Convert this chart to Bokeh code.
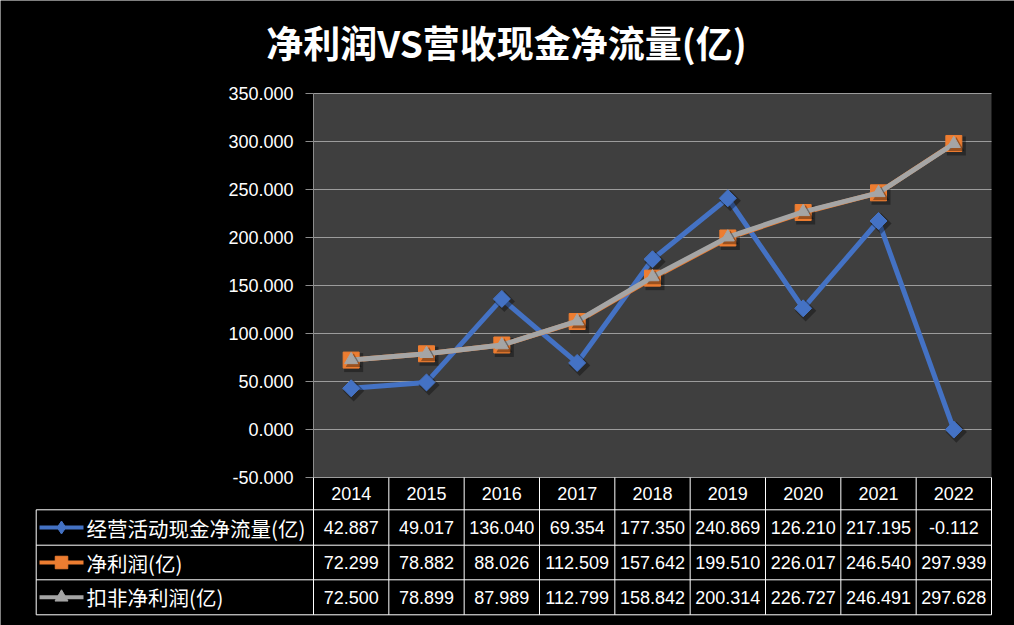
import math
from bokeh.plotting import figure
from bokeh.models import Range1d
from bokeh.core.properties import value
from bokeh.embed import file_html
from bokeh.resources import INLINE

# ---------------- data ----------------
years = ["2014", "2015", "2016", "2017", "2018", "2019", "2020", "2021", "2022"]
cash_flow = [42.887, 49.017, 136.040, 69.354, 177.350, 240.869, 126.210, 217.195, -0.112]
net_profit = [72.299, 78.882, 88.026, 112.509, 157.642, 199.510, 226.017, 246.540, 297.939]
adj_profit = [72.500, 78.899, 87.989, 112.799, 158.842, 200.314, 226.727, 246.491, 297.628]
series_names = ["经营活动现金净流量(亿)", "净利润(亿)", "扣非净利润(亿)"]
y_ticks = [-50, 0, 50, 100, 150, 200, 250, 300, 350]
title_text = "净利润VS营收现金净流量(亿)"

# ---------------- layout constants (pixels) ----------------
W, H = 1014, 625
PL, PR = 313, 991       # plot area left/right
PT, PB = 93, 477        # plot area top/bottom
n = len(years)
ymin, ymax = y_ticks[0], y_ticks[-1]
xunit = (PR - PL) / n
yscale = (ymax - ymin) / (PB - PT)


def px2x(px):
    return -0.5 + (px - PL) / xunit


def py2y(py):
    return ymax - (py - PT) * yscale


xs = list(range(n))
BLUE, ORANGE, GRAY = "#4472C4", "#ED7D31", "#A5A5A5"
NUM_FONT = value("Liberation Sans")
CJK_FONT = value("Noto Sans CJK SC")

p = figure(width=W, height=H, x_range=Range1d(px2x(0), px2x(W)),
           y_range=Range1d(py2y(H), py2y(0)),
           output_backend="svg", toolbar_location=None,
           x_axis_type=None, y_axis_type=None, min_border=0,
           background_fill_color="black", border_fill_color="black",
           outline_line_color=None)

# title
p.text(x=[px2x((270 + 742) / 2)], y=[py2y(41)], text=[title_text],
       text_color="white", text_font=CJK_FONT, text_font_size="37px",
       text_font_style="bold", text_align="center", text_baseline="middle")

# plot area
p.quad(left=[-0.5], right=[n - 0.5], bottom=[ymin], top=[ymax],
       fill_color="#3f3f3f", line_color=None)
p.segment(x0=[-0.5] * len(y_ticks), y0=y_ticks, x1=[n - 0.5] * len(y_ticks), y1=y_ticks,
          line_color="#9c9c9c", line_width=1)

# value axis: line, ticks, labels
p.segment(x0=[-0.5], y0=[ymin], x1=[-0.5], y1=[ymax], line_color="#8c8c8c", line_width=1)
p.segment(x0=[px2x(PL - 8)] * len(y_ticks), y0=y_ticks, x1=[-0.5] * len(y_ticks), y1=y_ticks,
          line_color="#8c8c8c", line_width=1)
p.text(x=[px2x(293)] * len(y_ticks), y=y_ticks, text=["%.3f" % t for t in y_ticks],
       text_color="white", text_font=NUM_FONT, text_font_size="18px",
       text_align="right", text_baseline="middle")

# series
series = [
    (cash_flow, BLUE, "square", 12, 45, "diamond", 13),
    (net_profit, ORANGE, "square", 16, 0, "square", 12.5),
    (adj_profit, GRAY, "triangle", 13, 0, "triangle", 13),
]
sdx, sdy = 2.5 / xunit, -2.5 * yscale
for vals, color, marker, size, ang, lmarker, lsize in series:
    p.line(xs, vals, line_color=color, line_width=5, line_join="round")
    p.scatter([x + sdx for x in xs], [v + sdy for v in vals], marker=marker,
              size=size + 3, angle=math.radians(ang),
              fill_color="black", line_color=None, fill_alpha=0.35)
    p.scatter(xs, vals, marker=marker, size=size, angle=math.radians(ang),
              fill_color=color, line_color=color)

# ---------------- data table ----------------
row_py = [509.3, 544.7, 579.3, 614.3]
leg_left = px2x(35.7)
row_y = [py2y(v) for v in row_py]
p.segment(x0=[leg_left] * 4, y0=row_y, x1=[n - 0.5] * 4, y1=row_y,
          line_color="white", line_width=1)
vx = [i - 0.5 for i in range(n + 1)]
p.segment(x0=vx, y0=[ymin] * len(vx), x1=vx, y1=[row_y[-1]] * len(vx),
          line_color="white", line_width=1)
p.segment(x0=[leg_left], y0=[row_y[0]], x1=[leg_left], y1=[row_y[-1]],
          line_color="white", line_width=1)

p.text(x=xs, y=[py2y((PB + row_py[0]) / 2)] * n, text=years, text_color="white",
       text_font=NUM_FONT, text_font_size="18px", text_align="center",
       text_baseline="middle")

row_c = [py2y((row_py[i] + row_py[i + 1]) / 2) for i in range(3)]
all_vals = [cash_flow, net_profit, adj_profit]
for r in range(3):
    p.text(x=xs, y=[row_c[r]] * n, text=["%.3f" % v for v in all_vals[r]],
           text_color="white", text_font=NUM_FONT, text_font_size="18px",
           text_align="center", text_baseline="middle")

p.text(x=[px2x(86)] * 3, y=row_c, text=series_names, text_color="white",
       text_font=CJK_FONT, text_font_size="20.5px", text_align="left",
       text_baseline="middle")

# legend keys
for r, (vals, color, marker, size, ang, lmarker, lsize) in enumerate(series):
    p.segment(x0=[px2x(39)], y0=[row_c[r]], x1=[px2x(83)], y1=[row_c[r]],
              line_color=color, line_width=4)
    p.scatter([px2x(61)], [row_c[r]], marker=lmarker, size=lsize,
              fill_color=color, line_color=color)

open("out.html", "w").write(file_html(p, INLINE))
